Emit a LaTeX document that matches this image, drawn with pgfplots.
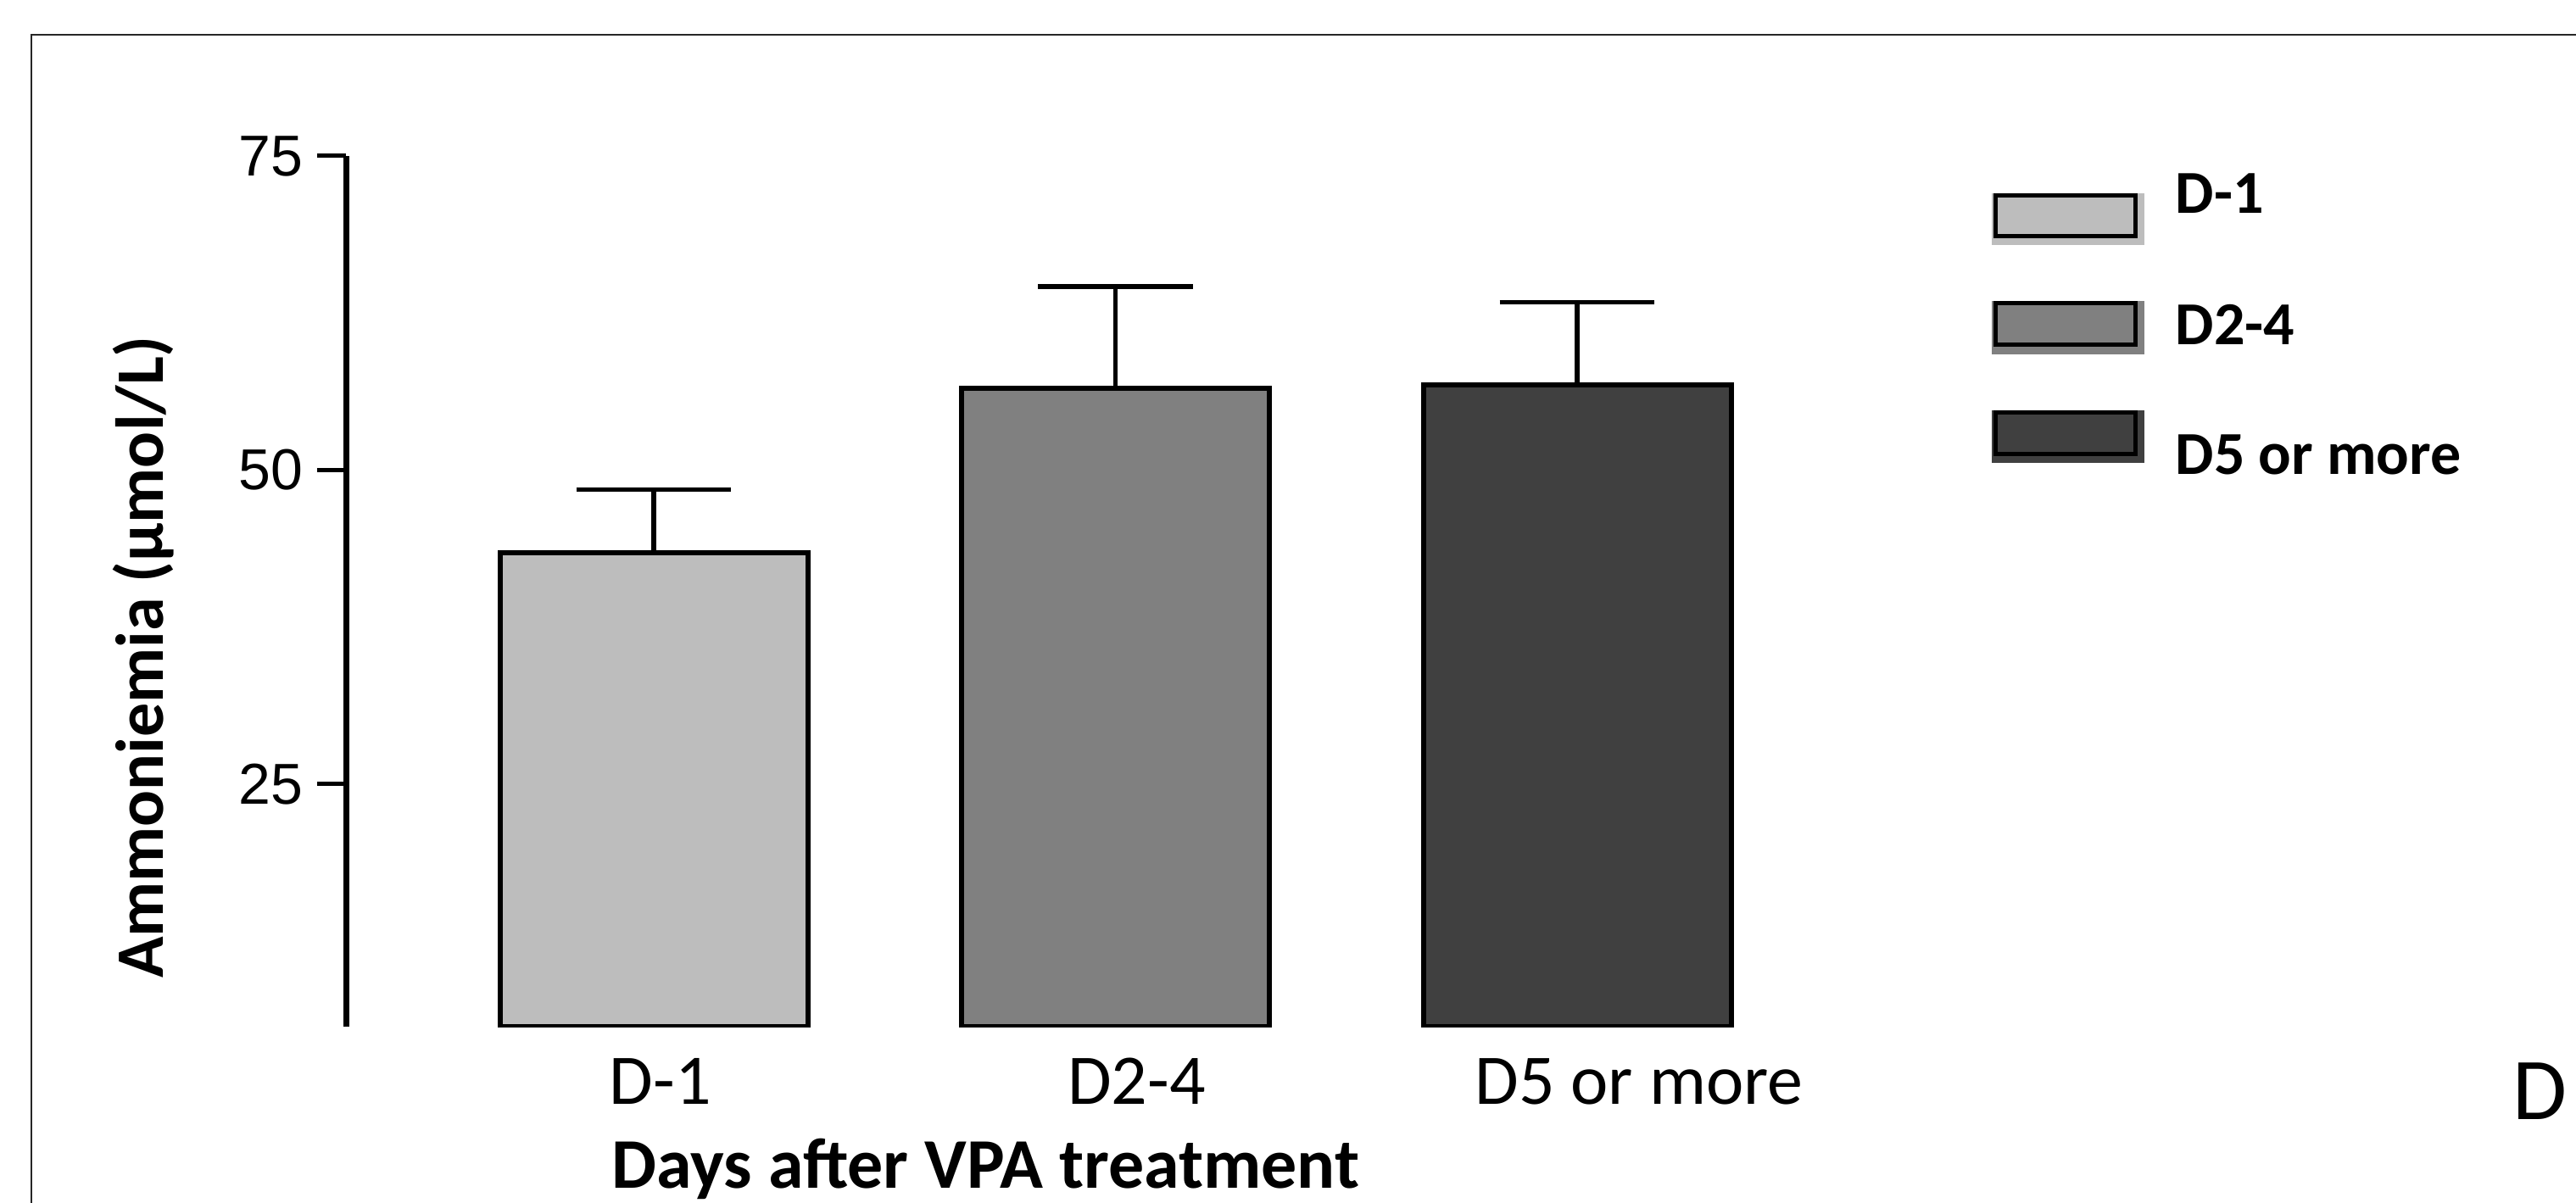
\documentclass[border=0pt]{standalone}
\usepackage{fontspec}
\setmainfont{Carlito}
\newfontfamily\arialfont{Liberation Sans}
\usepackage{pgfplots}
\pgfplotsset{compat=1.18}
\definecolor{c1}{HTML}{BDBDBD}
\definecolor{c2}{HTML}{808080}
\definecolor{c3}{HTML}{404040}
\begin{document}
\begin{tikzpicture}
\useasboundingbox (0,0) rectangle (759.5pt,354.5pt);
\draw[line width=0.5pt, color=black!85] (9.25pt,-20pt) -- (9.25pt,344.25pt) -- (800pt,344.25pt);
\begin{axis}[
  at={(102pt,51.75pt)}, anchor=south west,
  scale only axis, width=453.75pt, height=256.75pt,
  xmin=-0.6667, xmax=2.6667, ymin=5.7, ymax=75,
  axis lines=left,
  axis line style={-},
  x axis line style={draw=none},
  y axis line style={line width=1.75pt, black},
  tick align=outside,
  ytick={25,50,75},
  ytick style={line width=1.25pt, black},
  major tick length=8.5pt,
  xtick={0.014,1.046,2.134},
  xticklabels={D-1,D2-4,D5 or more},
  xtick style={draw=none},
  /pgf/number format/assume math mode=true,
  yticklabel style={font=\arialfont\fontsize{17}{17}\selectfont, inner sep=0pt, anchor=east, xshift=-4pt},
  xticklabel style={font=\fontsize{21}{21}\selectfont, inner sep=0pt, anchor=base, yshift=-14.25pt},
  xlabel={Days after VPA treatment},
  ylabel={Ammoniemia (µmol/L)},
  x label style={font=\bfseries\fontsize{21}{21}\selectfont, at={(axis description cs:0.4157,-0.185)}, anchor=base, inner sep=0pt},
  y label style={font=\bfseries\fontsize{20}{20}\selectfont, at={(axis description cs:-0.119,0.4245)}, anchor=base, inner sep=0pt},
  ybar, bar width=90.75pt, bar shift=0pt,
  clip=true,
]
\addplot[fill=c1, draw=black, line width=1.5pt,
  error bars/.cd, y dir=plus, y explicit, error mark=|,
  error bar style={line width=1.35pt, black},
  error mark options={line width=1.35pt, mark size=22.85pt, black}]
  coordinates {(0,43.45) +- (0,5.0)};
\addplot[fill=c2, draw=black, line width=1.5pt,
  error bars/.cd, y dir=plus, y explicit, error mark=|,
  error bar style={line width=1.35pt, black},
  error mark options={line width=1.35pt, mark size=22.85pt, black}]
  coordinates {(1,56.5) +- (0,8.12)};
\addplot[fill=c3, draw=black, line width=1.5pt,
  error bars/.cd, y dir=plus, y explicit, error mark=|,
  error bar style={line width=1.35pt, black},
  error mark options={line width=1.35pt, mark size=22.85pt, black}]
  coordinates {(2,56.75) +- (0,6.61)};
\end{axis}
% legend
\fill[c1] (587.25pt,282.2pt) rectangle (632.25pt,297.6pt);
\draw[line width=1.25pt] (588.4pt,284.875pt) rectangle (629.6pt,296.95pt);
\fill[c2] (587.25pt,250.075pt) rectangle (632.25pt,265.75pt);
\draw[line width=1.25pt] (588.4pt,252.875pt) rectangle (629.6pt,265.125pt);
\fill[c3] (587.25pt,218.075pt) rectangle (632.25pt,233.5pt);
\draw[line width=1.25pt] (588.4pt,220.7pt) rectangle (629.6pt,232.875pt);
\node[anchor=base west, inner sep=0pt, font=\bfseries\fontsize{18}{18}\selectfont] at (641.2pt,291.6pt) {D-1};
\node[anchor=base west, inner sep=0pt, font=\bfseries\fontsize{18}{18}\selectfont] at (641.2pt,252.8pt) {D2-4};
\node[anchor=base west, inner sep=0pt, font=\bfseries\fontsize{18}{18}\selectfont] at (641.2pt,214.7pt) {D5 or more};
\node[anchor=base west, inner sep=0pt, font=\fontsize{26}{26}\selectfont] at (740.75pt,24.5pt) {D};
\end{tikzpicture}
\end{document}
